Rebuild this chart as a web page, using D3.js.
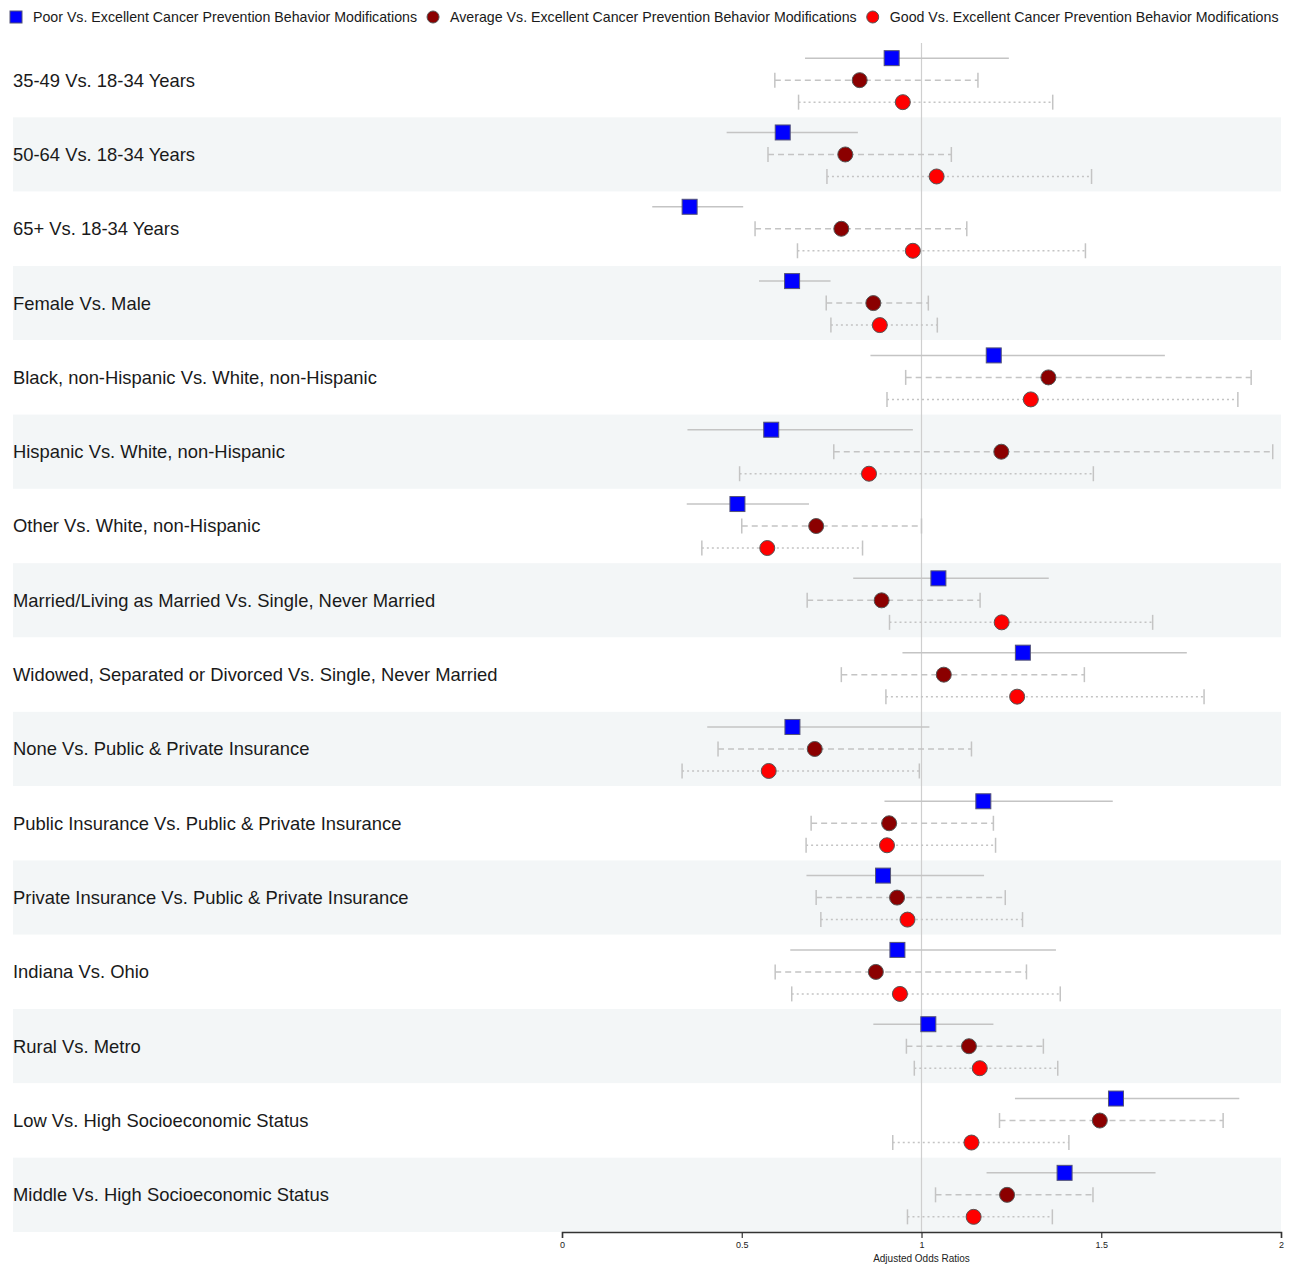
<!DOCTYPE html>
<html>
<head>
<meta charset="utf-8">
<script src="https://cdn.jsdelivr.net/npm/d3@7"></script>
<style>
  html, body { margin: 0; padding: 0; background: #fff; }
  svg { display: block; font-family: Arial, "Liberation Sans", sans-serif; }
</style>
</head>
<body>
<svg id="chart" width="1296" height="1264"></svg>
<script>
// ---------------- DATA ----------------
const categories = [
  "35-49 Vs. 18-34 Years",
  "50-64 Vs. 18-34 Years",
  "65+ Vs. 18-34 Years",
  "Female Vs. Male",
  "Black, non-Hispanic Vs. White, non-Hispanic",
  "Hispanic Vs. White, non-Hispanic",
  "Other Vs. White, non-Hispanic",
  "Married/Living as Married Vs. Single, Never Married",
  "Widowed, Separated or Divorced Vs. Single, Never Married",
  "None Vs. Public & Private Insurance",
  "Public Insurance Vs. Public & Private Insurance",
  "Private Insurance Vs. Public & Private Insurance",
  "Indiana Vs. Ohio",
  "Rural Vs. Metro",
  "Low Vs. High Socioeconomic Status",
  "Middle Vs. High Socioeconomic Status"
];

const seriesNames = [
  "Poor Vs. Excellent Cancer Prevention Behavior Modifications",
  "Average Vs. Excellent Cancer Prevention Behavior Modifications",
  "Good Vs. Excellent Cancer Prevention Behavior Modifications"
];

// Poor vs Excellent: odds ratio, lower CI, upper CI
const poorOR    = [0.917, 0.614, 0.355, 0.640, 1.201, 0.582, 0.488, 1.047, 1.282, 0.641, 1.172, 0.893, 0.933, 1.019, 1.541, 1.398];
const poorLow   = [0.676, 0.458, 0.251, 0.548, 0.858, 0.349, 0.347, 0.810, 0.947, 0.404, 0.897, 0.680, 0.635, 0.866, 1.260, 1.181];
const poorHigh  = [1.243, 0.823, 0.504, 0.747, 1.677, 0.976, 0.687, 1.354, 1.738, 1.022, 1.532, 1.174, 1.374, 1.200, 1.884, 1.651];

// Average vs Excellent
const avgOR     = [0.828, 0.788, 0.777, 0.866, 1.353, 1.222, 0.707, 0.889, 1.062, 0.703, 0.910, 0.932, 0.873, 1.132, 1.496, 1.238];
const avgLow    = [0.592, 0.573, 0.537, 0.735, 0.956, 0.756, 0.500, 0.682, 0.777, 0.434, 0.693, 0.707, 0.593, 0.958, 1.217, 1.039];
const avgHigh   = [1.157, 1.083, 1.126, 1.019, 1.917, 1.977, 1.000, 1.163, 1.453, 1.139, 1.200, 1.233, 1.292, 1.339, 1.839, 1.477];

// Good vs Excellent
const goodOR    = [0.948, 1.042, 0.976, 0.884, 1.304, 0.854, 0.571, 1.223, 1.266, 0.575, 0.904, 0.961, 0.940, 1.162, 1.139, 1.145];
const goodLow   = [0.658, 0.737, 0.655, 0.748, 0.904, 0.494, 0.389, 0.911, 0.901, 0.334, 0.679, 0.720, 0.639, 0.980, 0.920, 0.961];
const goodHigh  = [1.365, 1.473, 1.456, 1.044, 1.880, 1.478, 0.836, 1.643, 1.786, 0.994, 1.206, 1.281, 1.386, 1.379, 1.410, 1.364];

const xTicks = [0, 0.5, 1, 1.5, 2];
const xTickLabels = ["0", "0.5", "1", "1.5", "2"];
const xTitle = "Adjusted Odds Ratios";

// ---------------- BUILD ----------------
const series = [
  { name: seriesNames[0], or: poorOR, lo: poorLow, hi: poorHigh, shape: "square", fill: "#0000ff", dash: null, caps: false },
  { name: seriesNames[1], or: avgOR,  lo: avgLow,  hi: avgHigh,  shape: "circle", fill: "#8b0000", dash: "6,4", caps: true },
  { name: seriesNames[2], or: goodOR, lo: goodLow, hi: goodHigh, shape: "circle", fill: "#ff0000", dash: "2,3", caps: true }
];

const svg = d3.select("#chart");

const plotLeft = 562, plotRight = 1281;
const bandLeft = 13;
const plotTop = 43, plotBottom = 1232;

const x = d3.scaleLinear().domain([0, 2]).range([plotLeft, plotRight]);
const y = d3.scaleBand().domain(categories).range([plotTop, plotBottom]).padding(0);
const off = d3.scalePoint().domain(seriesNames).range([-22, 22]);

// Row bands
svg.append("g").selectAll("rect")
  .data(categories)
  .join("rect")
  .attr("x", bandLeft)
  .attr("y", d => y(d))
  .attr("width", plotRight - bandLeft)
  .attr("height", y.bandwidth())
  .attr("fill", (d, i) => i % 2 === 1 ? "#f3f6f7" : "#ffffff");

// Reference line at 1
svg.append("line")
  .attr("x1", x(1)).attr("x2", x(1))
  .attr("y1", plotTop).attr("y2", plotBottom)
  .attr("stroke", "#cfcfcf").attr("stroke-width", 1.2);

// Category labels
svg.append("g").selectAll("text")
  .data(categories)
  .join("text")
  .attr("x", bandLeft)
  .attr("y", d => y(d) + y.bandwidth() / 2)
  .attr("dy", "0.35em")
  .attr("font-size", 18.4)
  .attr("fill", "#1a1a1a")
  .text(d => d);

// Error bars and markers
const lineColor = "#c4c4c4";
series.forEach(s => {
  const g = svg.append("g");
  const rows = categories.map((c, i) => ({ c, or: s.or[i], lo: s.lo[i], hi: s.hi[i], yy: y(c) + y.bandwidth() / 2 + off(s.name) }));

  g.selectAll("line.ci").data(rows).join("line")
    .attr("class", "ci")
    .attr("x1", d => x(d.lo)).attr("x2", d => x(d.hi))
    .attr("y1", d => d.yy).attr("y2", d => d.yy)
    .attr("stroke", lineColor).attr("stroke-width", 1.5)
    .attr("stroke-dasharray", s.dash);

  if (s.caps) {
    ["lo", "hi"].forEach(k => {
      g.selectAll("line.cap-" + k).data(rows).join("line")
        .attr("class", "cap-" + k)
        .attr("x1", d => x(d[k])).attr("x2", d => x(d[k]))
        .attr("y1", d => d.yy - 7.5).attr("y2", d => d.yy + 7.5)
        .attr("stroke", lineColor).attr("stroke-width", 1.5);
    });
  }

  if (s.shape === "square") {
    const sz = 15;
    g.selectAll("rect.mk").data(rows).join("rect")
      .attr("class", "mk")
      .attr("x", d => x(d.or) - sz / 2).attr("y", d => d.yy - sz / 2)
      .attr("width", sz).attr("height", sz)
      .attr("fill", s.fill).attr("stroke", "#555577").attr("stroke-width", 1);
  } else {
    g.selectAll("circle.mk").data(rows).join("circle")
      .attr("class", "mk")
      .attr("cx", d => x(d.or)).attr("cy", d => d.yy)
      .attr("r", 7.5)
      .attr("fill", s.fill).attr("stroke", "#555").attr("stroke-width", 1);
  }
});

// X axis
const axis = d3.axisBottom(x)
  .tickValues(xTicks)
  .tickFormat((d, i) => xTickLabels[i])
  .tickSize(6)
  .tickPadding(4);

const ax = svg.append("g")
  .attr("transform", `translate(0,${plotBottom})`)
  .call(axis);
ax.select(".domain").attr("stroke", "#333").attr("stroke-width", 1.5);
ax.selectAll(".tick line").attr("stroke", "#333").attr("stroke-width", 1.2);
ax.selectAll(".tick text").attr("font-size", 9).attr("fill", "#222")
  .attr("font-family", "Arial, 'Liberation Sans', sans-serif");

svg.append("text")
  .attr("x", x(1)).attr("y", 1262)
  .attr("text-anchor", "middle")
  .attr("font-size", 10).attr("fill", "#222")
  .text(xTitle);

// Legend
const leg = svg.append("g");
let cx = 16;
const ly = 17;
series.forEach((s, i) => {
  if (s.shape === "square") {
    leg.append("rect").attr("x", cx - 6).attr("y", ly - 6).attr("width", 12).attr("height", 12)
      .attr("fill", s.fill).attr("stroke", "#555577").attr("stroke-width", 1);
  } else {
    leg.append("circle").attr("cx", cx).attr("cy", ly).attr("r", 6)
      .attr("fill", s.fill).attr("stroke", "#555").attr("stroke-width", 1);
  }
  const t = leg.append("text")
    .attr("x", cx + 17).attr("y", ly).attr("dy", "0.35em")
    .attr("font-size", 14.2).attr("fill", "#1a1a1a")
    .text(s.name);
  cx = cx + 17 + t.node().getComputedTextLength() + 16;
});
</script>
</body>
</html>
